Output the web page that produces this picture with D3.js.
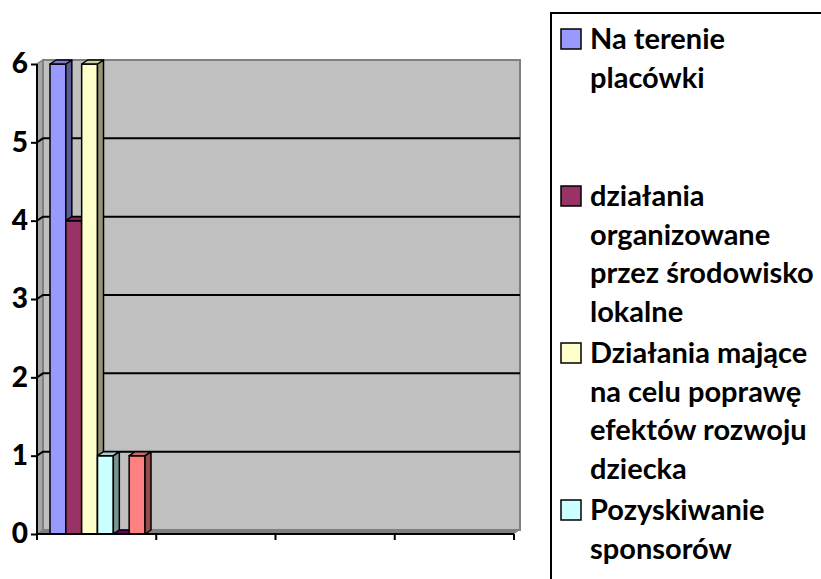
<!DOCTYPE html>
<html><head><meta charset="utf-8">
<script src="https://cdn.jsdelivr.net/npm/d3@7"></script>
<style>body{margin:0;background:#fff}svg{display:block}</style>
</head><body>
<svg id="c" width="821" height="579"></svg>
<script>
const categories = ["K1", "K2", "K3", "K4"];
const seriesNames = ["Na terenie placówki", "działania organizowane przez środowisko lokalne",
  "Działania mające na celu poprawę efektów rozwoju dziecka", "Pozyskiwanie sponsorów", "Seria 5", "Seria 6"];
const legendLines = [["Na terenie", "placówki"], ["działania", "organizowane", "przez środowisko", "lokalne"],
  ["Działania mające", "na celu poprawę", "efektów rozwoju", "dziecka"], ["Pozyskiwanie", "sponsorów"],
  ["Seria 5"], ["Seria 6"]];
const s1 = [6, null, null, null];
const s2 = [4, null, null, null];
const s3 = [6, null, null, null];
const s4 = [1, null, null, null];
const s5 = [0, null, null, null];
const s6 = [1, null, null, null];
const seriesValues = [s1, s2, s3, s4, s5, s6];
const yTicks = [0, 1, 2, 3, 4, 5, 6];
const colors = ["#9999FF", "#993366", "#FFFFCC", "#CCFFFF", "#660066", "#FF8080"];

const W = 821, H = 579;
const svg = d3.select("#c");
const font = "Lato, Carlito, 'DejaVu Sans', sans-serif";
const dx = 6, dy = -4;
const y = d3.scaleLinear().domain([0, 6]).range([534, 64]);
const x0 = d3.scaleBand().domain(categories).range([37, 514]);
const x1 = d3.scaleBand().domain(d3.range(seriesNames.length)).range([13, 108]);
const xL = 37, xR = 514, y0 = y(0), yT = y(6);

// walls
svg.append("polygon").attr("points", [[xL, y0], [xL + dx, y0 + dy], [xL + dx, yT + dy], [xL, yT]].join(" "))
  .attr("fill", "#a6a6a6").attr("stroke", "#808080").attr("stroke-width", 1.5);
svg.append("rect").attr("x", xL + dx).attr("y", yT + dy).attr("width", xR - xL)
  .attr("height", y0 - yT).attr("fill", "#c0c0c0").attr("stroke", "#808080").attr("stroke-width", 2);
svg.append("polygon").attr("points", [[xL, y0], [xL + dx, y0 + dy], [xR + dx, y0 + dy], [xR, y0]].join(" "))
  .attr("fill", "#808080");

// gridlines
svg.append("g").selectAll("path").data(yTicks.filter(v => v > 0 && v < 6)).join("path")
  .attr("d", v => `M${xL},${y(v)}L${xL + dx},${y(v) + dy}L${xR + dx},${y(v) + dy}`)
  .attr("fill", "none").attr("stroke", "#000").attr("stroke-width", 2);

// bars
seriesValues.forEach((vals, i) => {
  const c = d3.color(colors[i]);
  const side = c.darker(1.5).formatHex(), top = c.darker(0.6).formatHex();
  categories.forEach((cat, j) => {
    const v = vals[j];
    if (v == null) return;
    const x = x0(cat) + x1(i), w = x1.bandwidth(), yt = y(v);
    const g = svg.append("g").attr("stroke", "#000").attr("stroke-width", 1.5).attr("stroke-linejoin", "round");
    if (v > 0) {
      g.append("rect").attr("x", x).attr("y", yt).attr("width", w).attr("height", y0 - yt).attr("fill", c.formatHex());
      g.append("polygon").attr("points", [[x + w, yt], [x + w + dx, yt + dy], [x + w + dx, y0 + dy], [x + w, y0]].join(" ")).attr("fill", side);
    }
    g.append("polygon").attr("points", [[x, yt], [x + dx, yt + dy], [x + w + dx, yt + dy], [x + w, yt]].join(" ")).attr("fill", v > 0 ? top : c.formatHex());
  });
});

// y axis
const yAxis = svg.append("g").attr("transform", `translate(${xL},0)`)
  .call(d3.axisLeft(y).tickValues(yTicks).tickFormat(d3.format("d")).tickSize(6).tickPadding(3));
yAxis.select(".domain").attr("stroke", "#000").attr("stroke-width", 2).attr("d", `M0,${y0}V${yT}`);
yAxis.selectAll(".tick line").attr("stroke", "#000").attr("stroke-width", 2);
yAxis.selectAll(".tick text").attr("font-family", font).attr("font-weight", 900).attr("font-size", 28).attr("fill", "#000");

// x axis
const xTickPos = categories.map(c => x0(c)).concat([x0.range()[1]]);
svg.append("line").attr("x1", xL).attr("x2", xR).attr("y1", y0).attr("y2", y0).attr("stroke", "#000").attr("stroke-width", 2);
svg.append("g").selectAll("line").data(xTickPos).join("line")
  .attr("x1", d => d).attr("x2", d => d).attr("y1", y0).attr("y2", y0 + 6).attr("stroke", "#000").attr("stroke-width", 2);

// legend (entries beyond the visible frame are clipped, as in the original)
svg.append("rect").attr("x", 551).attr("y", 13).attr("width", 400).attr("height", 800)
  .attr("fill", "#fff").attr("stroke", "#000").attr("stroke-width", 2);
const lineH = 38.5, slot = 157, base0 = 49;
const visible = seriesNames.map((d, i) => i).filter(i => base0 + i * slot < H);
const lg = svg.append("g").selectAll("g").data(visible).join("g")
  .attr("transform", i => `translate(0,${base0 + i * slot})`);
lg.append("rect").attr("x", 561).attr("y", -20).attr("width", 20).attr("height", 20)
  .attr("fill", i => colors[i]).attr("stroke", "#000").attr("stroke-width", 1.5);
lg.append("text").attr("font-family", font).attr("font-weight", "bold").attr("font-size", 29).attr("fill", "#000")
  .selectAll("tspan").data(i => legendLines[i]).join("tspan")
  .attr("x", 590).attr("y", (d, k) => k * lineH).text(d => d);
</script>
</body></html>
